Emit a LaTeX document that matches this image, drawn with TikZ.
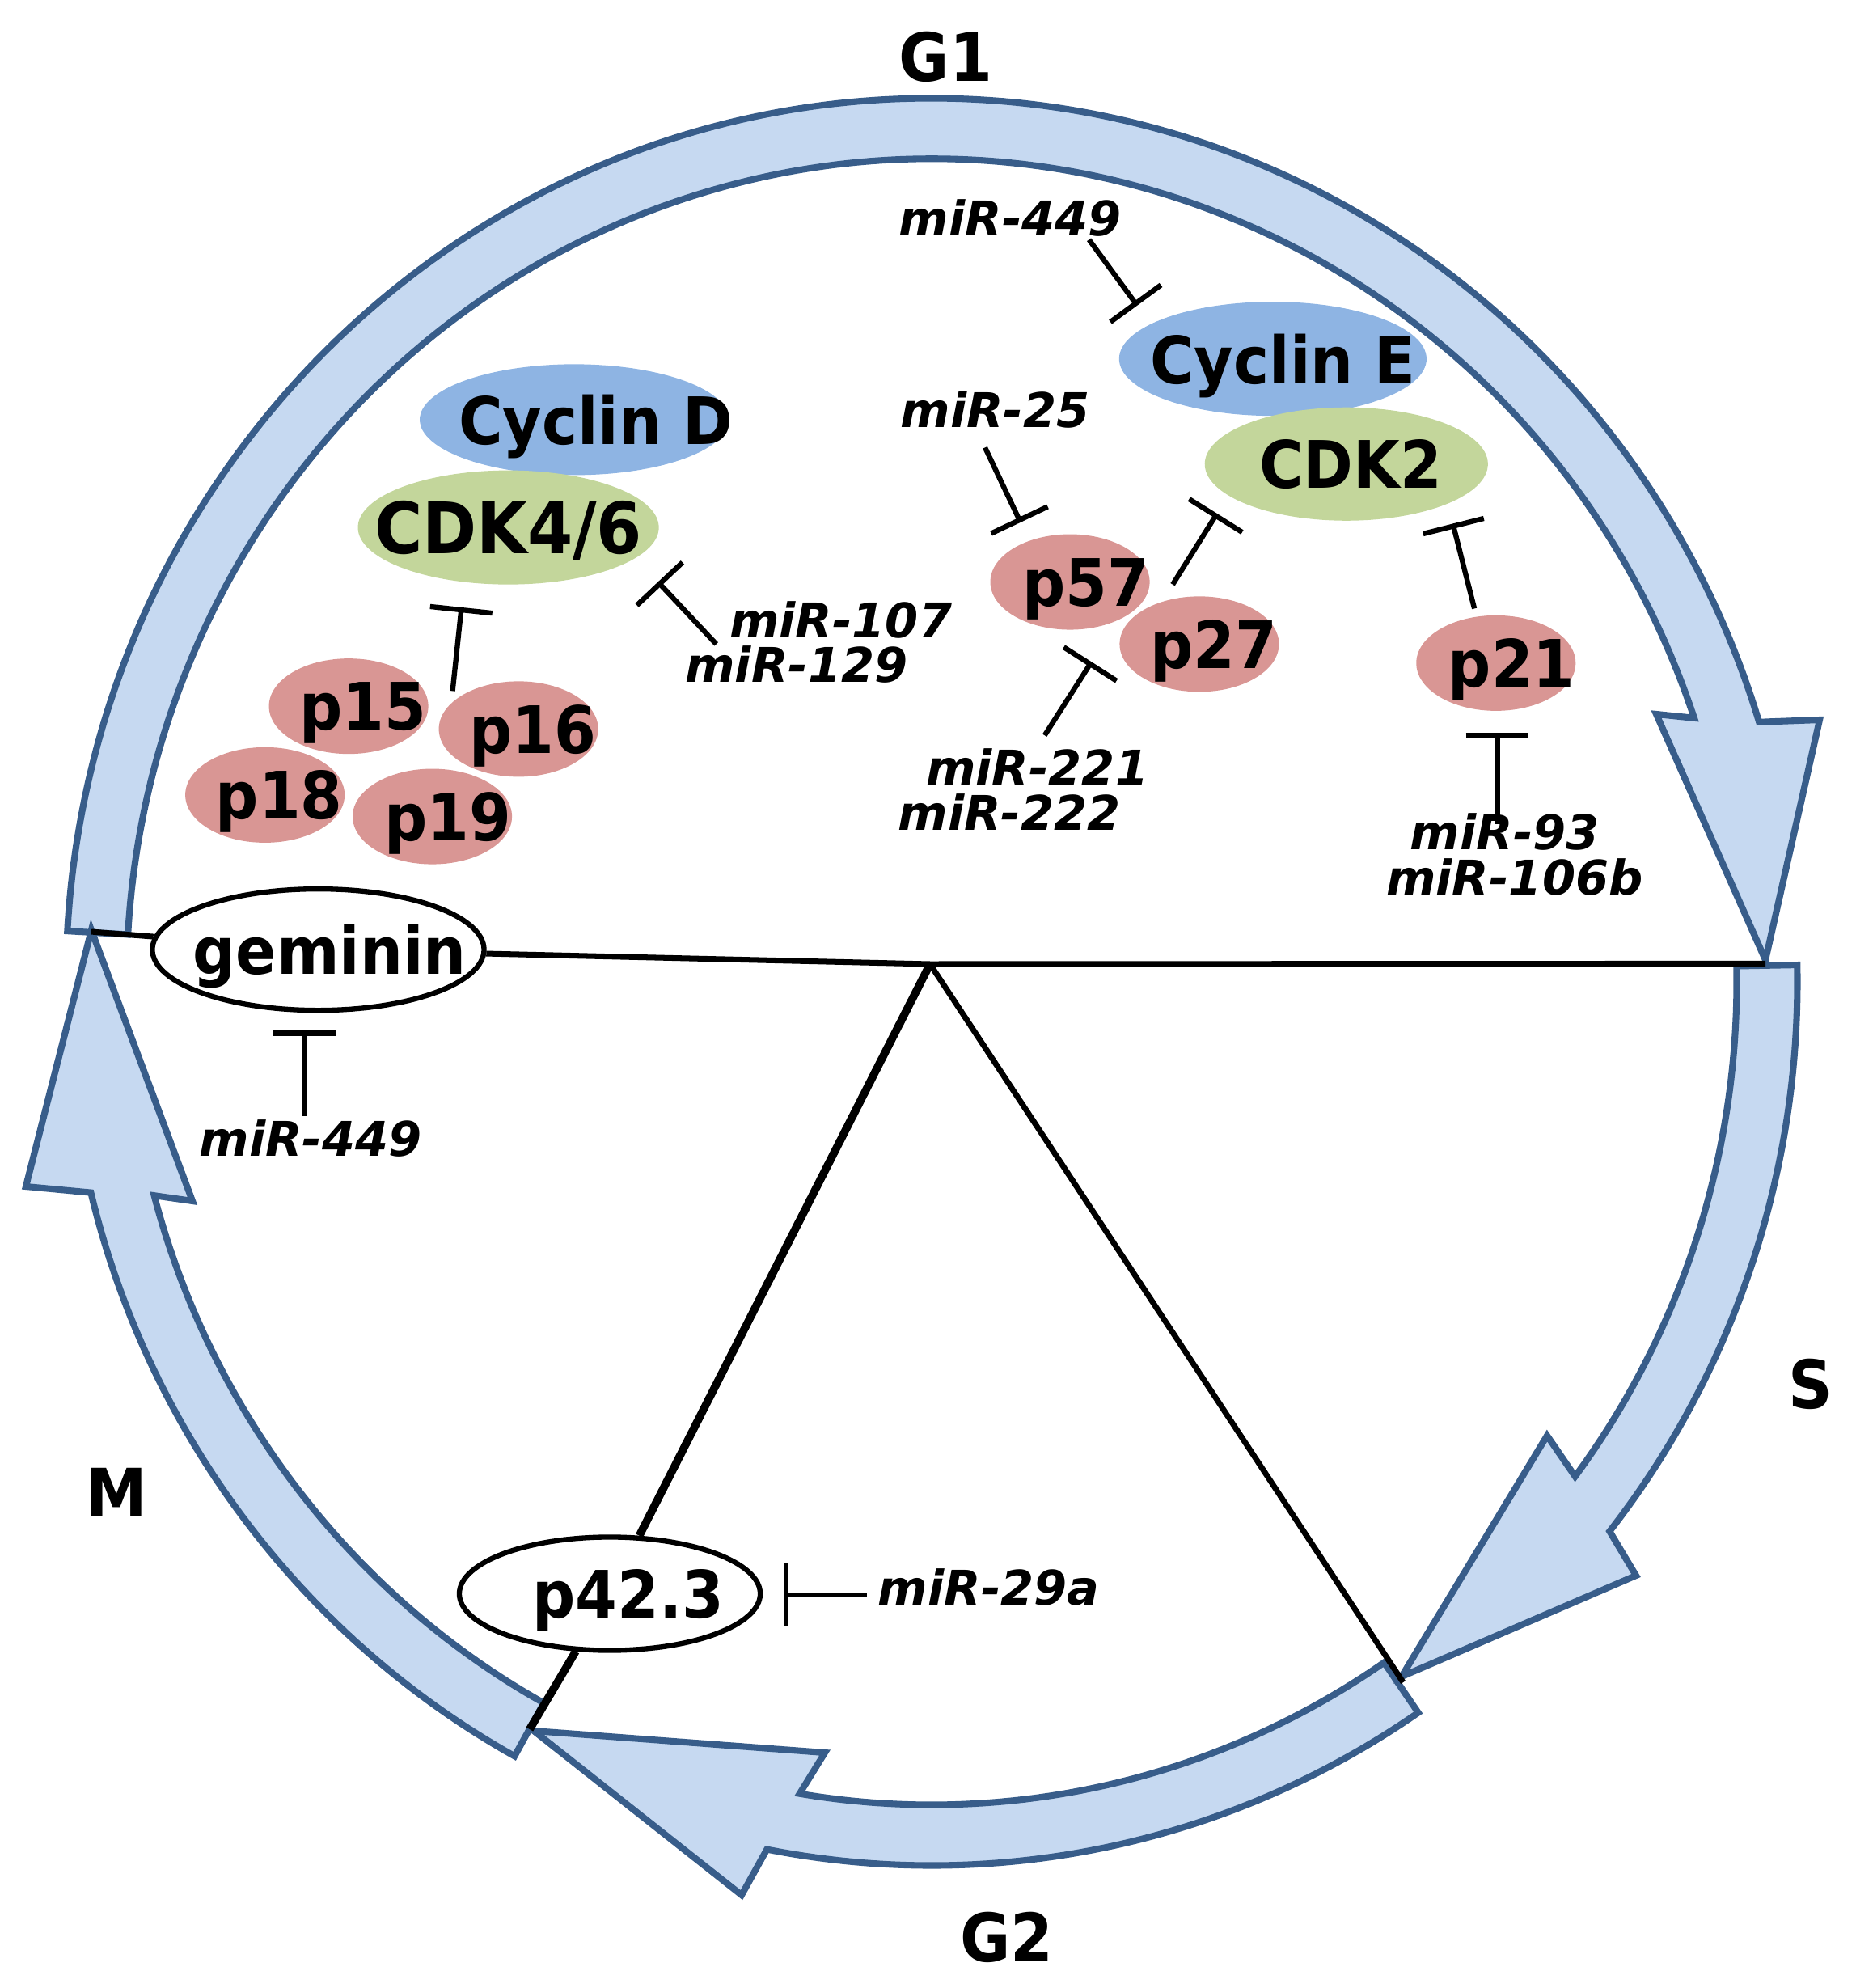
\documentclass[tikz,border=0pt]{standalone}
\usepackage{fontspec}
\setmainfont{DejaVu Sans}
\newfontfamily\lab[FakeStretch=0.92]{DejaVu Sans}
\newfontfamily\mirf{DejaVu Sans}
\usetikzlibrary{shapes.geometric, arrows.meta}
\definecolor{ringfill}{RGB}{198,217,241}
\definecolor{ringline}{RGB}{56,93,138}
\definecolor{cycblue}{RGB}{142,180,227}
\definecolor{cdkgreen}{RGB}{195,214,155}
\definecolor{pinkfill}{RGB}{217,150,148}
\newcommand{\zs}[2]{\makebox[0pt]{\hspace*{#1}#2}}
\pgfdeclarelayer{ringl}
\pgfdeclarelayer{linel}
\pgfsetlayers{ringl,linel,main}
\tikzset{
  ring/.style={fill=ringfill, draw=ringline, line width=2.3pt, line join=miter},
  prot/.style={ellipse, inner sep=0pt, text depth=0pt, font={\lab\bfseries\fontsize{23pt}{23pt}\selectfont}},
  pp/.style={prot, fill=pinkfill, minimum width=1.97cm, minimum height=1.18cm},
  mir/.style={inner sep=0pt, font={\mirf\bfseries\itshape\fontsize{16.8pt}{16.8pt}\selectfont}},
  mir2/.style={mir, align=left, anchor=west, font={\mirf\bfseries\itshape\fontsize{16.8pt}{15.8pt}\selectfont}},
  phase/.style={inner sep=0pt, font={\lab\bfseries\fontsize{23.5pt}{23.5pt}\selectfont}},
  inh/.style={line width=1.8pt, -{Bar[width=22pt]}},
  blk/.style={line width=2pt, black}
}
\begin{document}
\begin{tikzpicture}[x=0.015676cm, y=-0.015676cm]
\useasboundingbox (0,0) rectangle (1464,1568);

% ring of four arrows
\begin{pgfonlayer}{ringl}
\begin{scope}[shift={(734.88,774.43)}, scale=0.63792]
  \draw[ring] (-176.7:1070.5 and 1092.5) arc[start angle=-176.7, end angle=-17.1, x radius=1070.5, y radius=1092.5]
     -- (1098,-324) -- (1031,-27) -- (896,-331)
     -- (-18.7:995.5 and 1017.5) arc[start angle=-18.7, end angle=-176.7, x radius=995.5, y radius=1017.5] -- cycle;
  \draw[ring] (55.8:1070.5 and 1092.5) arc[start angle=55.8, end angle=100.97, x radius=1070.5, y radius=1092.5]
     -- (-235,1129) -- (-492,926) -- (-132,953)
     -- (99.44:995.5 and 1017.5) arc[start angle=99.44, end angle=55.8, x radius=995.5, y radius=1017.5] -- cycle;
  \draw[ring] (118.8:1070.5 and 1092.5) arc[start angle=118.8, end angle=166.2, x radius=1070.5, y radius=1092.5]
     -- (-1120,253) -- (-1039,-64) -- (-914,271)
     -- (164.95:995.5 and 1017.5) arc[start angle=164.95, end angle=118.8, x radius=995.5, y radius=1017.5] -- cycle;
  \draw[ring] (-1.1:1070.5 and 1092.5) arc[start angle=-1.1, end angle=38.45, x radius=1070.5, y radius=1092.5]
     -- (871,734) -- (581,859) -- (761,561)
     -- (36.94:995.5 and 1017.5) arc[start angle=36.94, end angle=-1.1, x radius=995.5, y radius=1017.5] -- cycle;
\end{scope}
\end{pgfonlayer}

% phase labels
\node[phase] (g1) at (746,45) {G1};
\node[phase] (s) at (1428,1092) {S};
\node[phase] (m) at (92,1177) {M};
\node[phase] (g2) at (794,1528) {G2};

% proteins
\node[prot, fill=cycblue, minimum width=3.82cm, minimum height=1.37cm] (cycD) at (453,331) {\zs{15pt}{Cyclin D}};
\node[prot, fill=cdkgreen, minimum width=3.72cm, minimum height=1.41cm, font={\lab\bfseries\fontsize{25pt}{25pt}\selectfont}] (cdk46) at (401,416) {\zs{0pt}{CDK4/6}};
\node[prot, fill=cycblue, minimum width=3.8cm, minimum height=1.41cm] (cycE) at (1004,283) {\zs{7pt}{Cyclin E}};
\node[prot, fill=cdkgreen, minimum width=3.5cm, minimum height=1.4cm] (cdk2) at (1062,366) {\zs{3pt}{CDK2}};
\node[pp] (p15) at (275,557) {\zs{10pt}{p15}};
\node[pp] (p16) at (409,575) {\zs{10pt}{p16}};
\node[pp] (p18) at (209,627) {\zs{10pt}{p18}};
\node[pp] (p19) at (341,644) {\zs{11pt}{p19}};
\node[pp] (p57) at (844,459) {\zs{11pt}{p57}};
\node[pp] (p27) at (946,508) {\zs{10pt}{p27}};
\node[pp] (p21) at (1180,523) {\zs{11pt}{p21}};
\node[prot, fill=white, draw=black, line width=1.8pt, minimum width=4.1cm, minimum height=1.5cm] (gem) at (251,749) {\zs{8pt}{geminin}};
\node[prot, fill=white, draw=black, line width=1.8pt, minimum width=3.72cm, minimum height=1.4cm] (p423) at (481,1257) {\zs{13pt}{p42.3}};

% black phase lines
\coordinate (V) at (733.6,760.4);
\coordinate (Lend) at (72.1,734.9);
\coordinate (Rend) at (1392.6,760);
\coordinate (Mtail) at (417.8,1363.9);
\coordinate (Stip) at (1106.8,1326.9);
\begin{pgfonlayer}{linel}
  \draw[blk] (Lend) -- (gem);
  \draw[blk] (gem) -- (V) -- (Rend);
  \draw[blk, line width=2.8pt] (V) -- (p423);
  \draw[blk, line width=2.8pt] (p423) -- (Mtail);
  \draw[blk] (V) -- (Stip);
\end{pgfonlayer}

% miRNA labels
\node[mir] (m449a) at (797,172) {miR-449};
\node[mir] (m25) at (785,323) {miR-25};
\node[mir2] (m107) at (540,506.5) {\hspace*{15.6pt}miR-107\\miR-129};
\node[mir2] (m221) at (708,622.5) {\hspace*{9.8pt}miR-221\\miR-222};
\node[mir2] (m93) at (1093,674) {\hspace*{8.5pt}miR-93\\miR-106b};
\node[mir] (m449b) at (245,898) {miR-449};
\node[mir] (m29) at (780,1252) {miR-29a};

% inhibition connectors
\coordinate (a1) at (859,189);  \coordinate (b1) at (897,241);
\coordinate (a2) at (777,353);  \coordinate (b2) at (805,412);
\coordinate (a3) at (925,461);  \coordinate (b3) at (960,405);
\coordinate (a4) at (1163,480); \coordinate (b4) at (1146,413);
\coordinate (a5) at (1181,650); \coordinate (b5) at (1181,578);
\coordinate (a6) at (824,580);  \coordinate (b6) at (861,522);
\coordinate (a7) at (565,508);  \coordinate (b7) at (519,459);
\coordinate (a8) at (357,545);  \coordinate (b8) at (364,479);
\coordinate (a9) at (240,880);  \coordinate (b9) at (240,813);
\coordinate (a10) at (684,1258); \coordinate (b10) at (618,1258);
\foreach \i in {1,...,10} { \draw[inh] (a\i) -- (b\i); }
\end{tikzpicture}
\end{document}
